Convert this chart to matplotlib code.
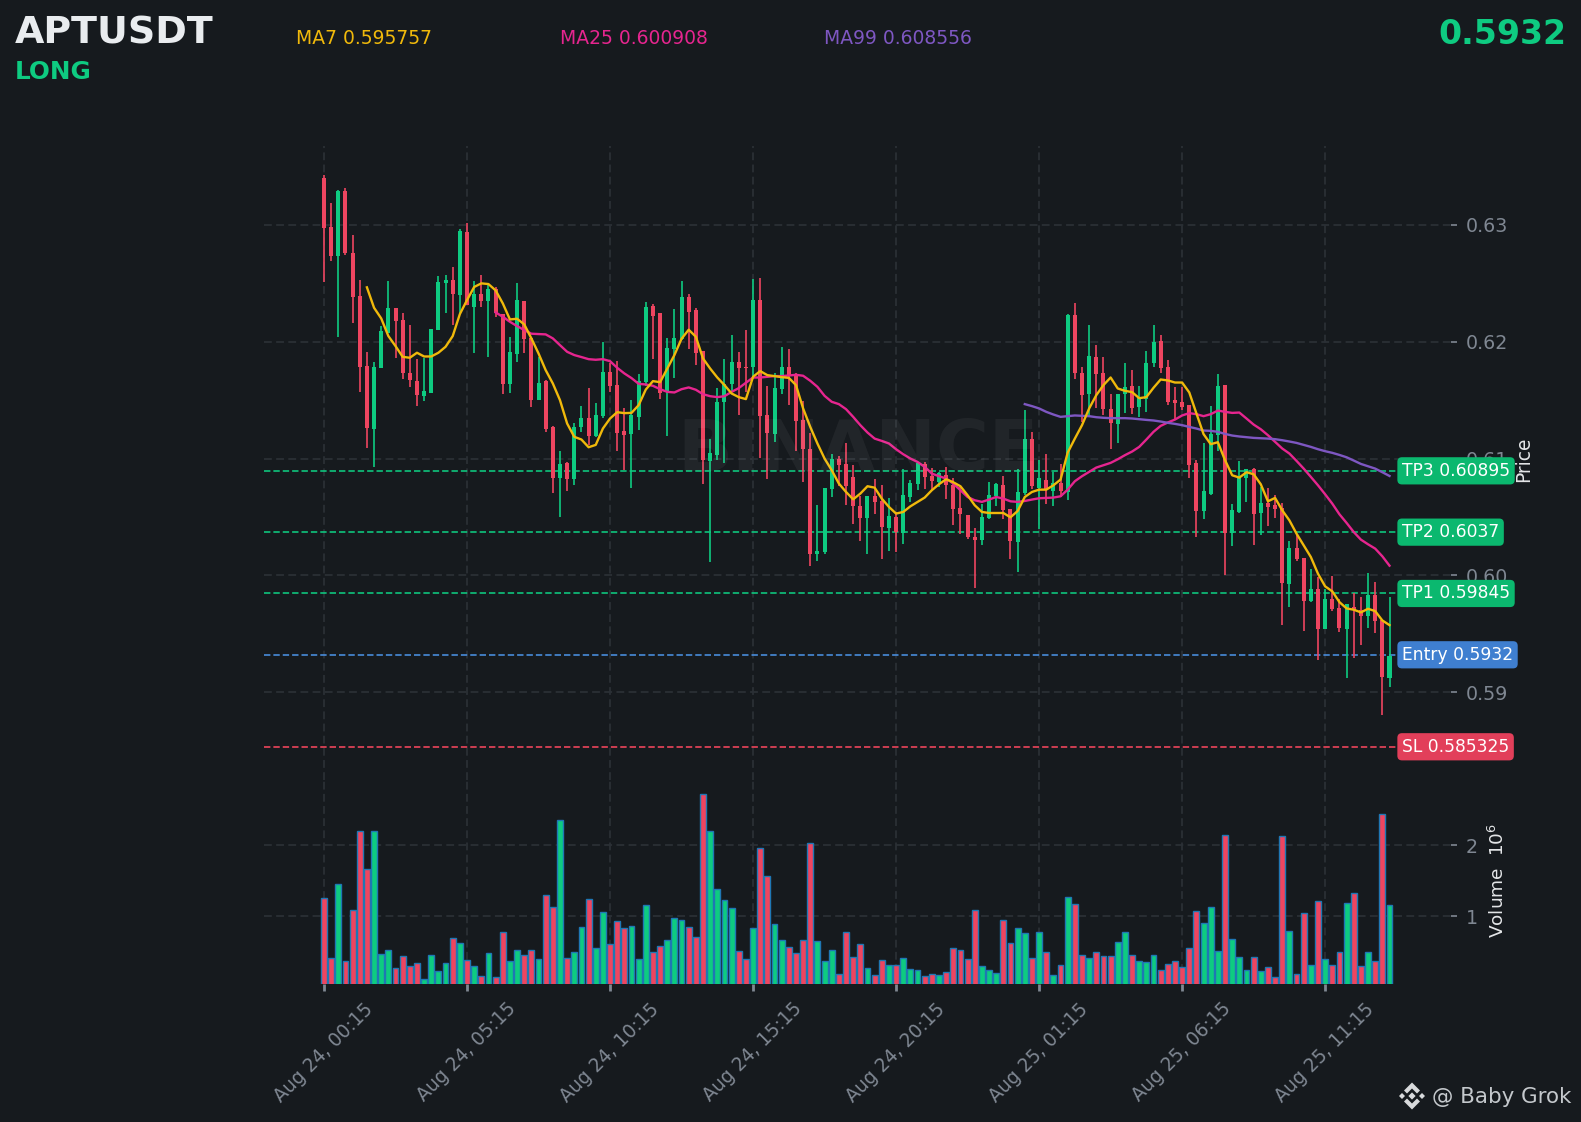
import numpy as np
import matplotlib
matplotlib.use('Agg')
import matplotlib.pyplot as plt
from matplotlib.patches import Polygon

# candles, 15 minute bars
opens = [.63403,.62983,.62737,.63291,.62760,.62391,.61791,.61254,.61777,.62077,
         .62289,.62186,.61731,.61663,.61537,.61563,.62103,.62506,.62529,.62403,
         .62940,.62300,.62409,.62351,.62451,.62237,.61640,.61897,.62349,.62031,
         .61503,.61663,.61269,.60834,.60960,.60826,.61272,.61346,.61192,.61363,
         .61740,.61629,.61234,.61209,.61357,.61654,.62306,.62246,.61580,.61937,
         .62023,.62383,.62271,.61920,.60977,.61029,.61483,.61637,.61826,.61783,
         .61783,.62357,.61371,.61209,.61594,.61783,.61706,.61329,.61080,.60180,
         .60197,.60737,.60994,.60951,.60840,.60591,.60489,.60677,.60634,.60403,
         .60497,.60360,.60669,.60780,.60951,.60849,.60797,.60857,.60771,.60574,
         .60514,.60326,.60300,.60489,.60677,.60771,.60566,.60283,.60703,.61166,
         .60746,.60814,.60720,.60789,.60714,.62229,.61731,.61551,.61869,.61731,
         .61423,.61294,.61551,.61620,.61440,.61509,.61817,.62006,.61783,.61500,
         .61483,.61457,.60960,.60549,.60700,.61200,.61629,.60363,.60540,.60831,
         .60909,.60531,.60617,.60600,.60574,.59923,.60231,.60146,.59777,.59880,
         .59537,.59794,.59717,.59537,.59726,.59700,.59649,.59829,.59614,.59120]
highs = [.63431,.63186,.63300,.63314,.62917,.62526,.61909,.61823,.62134,.62517,
         .62289,.62243,.62140,.61849,.61857,.62109,.62563,.62571,.62637,.62963,
         .63014,.62517,.62571,.62483,.62471,.62237,.62043,.62500,.62349,.62031,
         .61871,.61671,.61277,.61069,.60971,.61306,.61449,.61600,.61477,.62000,
         .61814,.61837,.61429,.61500,.61720,.62337,.62323,.62246,.62029,.62277,
         .62517,.62409,.62286,.61920,.61171,.61600,.61851,.62054,.61914,.62097,
         .62534,.62543,.61620,.61729,.61957,.61934,.61729,.61491,.61223,.60606,
         .60746,.61037,.61020,.61129,.60946,.60677,.60677,.60829,.60771,.60666,
         .60543,.60909,.60814,.60971,.60971,.60920,.60886,.60929,.60837,.60757,
         .60514,.60409,.60614,.60800,.60791,.60851,.60566,.60914,.61420,.61231,
         .60991,.61043,.60886,.60957,.62237,.62329,.61780,.62140,.61969,.61866,
         .61557,.61557,.61820,.61757,.61623,.61917,.62140,.62054,.61843,.61609,
         .61609,.61457,.60986,.61129,.61449,.61720,.61629,.60614,.60980,.60909,
         .60920,.60757,.60751,.60686,.60623,.60294,.60357,.60146,.60057,.59986,
         .59880,.59991,.59800,.59751,.59852,.59811,.60020,.59946,.59614,.59811]
lows = [.62509,.62694,.62043,.62746,.62157,.61571,.61094,.60929,.61777,.62077,
        .61857,.61683,.61614,.61454,.61497,.61563,.62103,.62243,.62140,.62243,
        .62317,.61900,.62300,.61871,.62214,.61549,.61563,.61823,.61906,.61443,
        .61503,.61229,.60709,.60500,.60723,.60777,.61229,.61114,.61186,.61343,
        .61571,.61066,.60900,.60749,.61243,.61620,.61849,.61514,.61194,.61686,
        .62014,.61934,.61800,.60786,.60114,.60991,.60963,.61571,.61371,.61571,
        .61700,.61009,.60829,.61143,.61557,.61457,.61066,.60800,.60080,.60123,
        .60186,.60671,.60763,.60603,.60440,.60294,.60183,.60523,.60140,.60209,
        .60197,.60271,.60626,.60729,.60740,.60729,.60757,.60654,.60431,.60357,
        .60311,.59894,.60260,.60483,.60597,.60483,.60140,.60029,.60686,.60737,
        .60394,.60614,.60597,.60671,.60649,.61683,.61309,.61371,.61437,.61371,
        .61086,.61134,.61391,.61380,.61357,.61400,.61780,.61729,.61457,.61329,
        .61414,.60834,.60329,.60483,.60689,.61066,.60006,.60251,.60534,.60629,
        .60260,.60346,.60420,.60494,.59577,.59729,.60123,.59523,.59771,.59277,
        .59537,.59694,.59514,.59120,.59291,.59406,.59551,.59506,.58806,.59043]
closes = [.62977,.62737,.63291,.62760,.62386,.61786,.61263,.61783,.62091,.62289,
          .62180,.61734,.61674,.61546,.61577,.62109,.62511,.62529,.62411,.62949,
          .62317,.62409,.62349,.62451,.62249,.61640,.61911,.62357,.62023,.61503,
          .61646,.61251,.60834,.60951,.60826,.61269,.61346,.61192,.61371,.61740,
          .61620,.61220,.61200,.61371,.61663,.62297,.62220,.61560,.61946,.62031,
          .62383,.62254,.61903,.60986,.61046,.61483,.61637,.61826,.61774,.61777,
          .62357,.61363,.61217,.61603,.61783,.61711,.61320,.61080,.60180,.60206,
          .60746,.60994,.60943,.60763,.60591,.60489,.60677,.60626,.60411,.60506,
          .60369,.60686,.60789,.60960,.60840,.60806,.60874,.60771,.60566,.60523,
          .60326,.60300,.60497,.60686,.60780,.60557,.60291,.60711,.61166,.60763,
          .60831,.60737,.60789,.60720,.62229,.61734,.61543,.61877,.61723,.61423,
          .61303,.61557,.61611,.61431,.61526,.61817,.61997,.61774,.61483,.61474,
          .61440,.60943,.60549,.60720,.61209,.61620,.60363,.60557,.60840,.60909,
          .60523,.60617,.60583,.60566,.59932,.60231,.60137,.59777,.59880,.59537,
          .59794,.59709,.59546,.59751,.59706,.59649,.59829,.59606,.59129,.59309]
# volume in millions
volumes = [1.263,.418,1.46,.376,1.094,2.202,1.671,2.202,.474,.531,
           .277,.446,.305,.347,.122,.46,.235,.347,.70,.629,
           .39,.305,.164,.488,.15,.784,.376,.531,.46,.531,
           .404,1.305,1.136,2.347,.418,.502,.855,1.249,.559,1.066,
           .615,.939,.84,.869,.404,1.164,.502,.587,.671,.981,
           .953,.855,.714,2.714,2.202,1.39,1.235,1.122,.516,.404,
           .84,1.953,1.559,.897,.671,.573,.488,.671,2.024,.657,
           .376,.531,.193,.784,.432,.615,.277,.178,.39,.319,
           .319,.418,.263,.249,.164,.193,.178,.221,.559,.531,
           .404,1.094,.305,.249,.207,.953,.629,.84,.77,.418,
           .784,.502,.178,.319,1.277,1.178,.46,.418,.502,.446,
           .446,.643,.784,.46,.376,.362,.46,.249,.333,.376,
           .291,.559,1.08,.911,1.136,.516,2.136,.685,.432,.249,
           .432,.235,.291,.15,2.122,.798,.193,1.052,.319,1.221,
           .404,.319,.502,1.193,1.333,.305,.502,.376,2.432,1.164]

ma7 = [.62466,.62291,.62200,.62049,.61963,.61871,.61863,.61906,.61874,.61874,
       .61906,.61957,.62049,.62237,.62357,.62469,.62500,.62494,.62440,.62329,
       .62191,.62197,.62149,.62029,.61900,.61757,
       .61643,.61500,.61300,.61186,.61163,.61097,.61117,.61257,.61343,.61397,
       .61389,.61391,.61457,.61591,.61663,.61654,.61769,.61886,.62026,.62103,
       .62043,.61857,.61771,.61694,.61629,.61557,.61526,.61509,.61700,.61749,
       .61714,.61706,.61697,.61691,.61629,.61429,.61271,.61129,.61000,
       .60900,.60786,.60714,.60651,.60700,.60763,.60751,.60657,.60586,.60529,
       .60543,.60591,.60629,.60666,.60729,.60780,.60823,.60797,.60763,.60686,
       .60600,.60543,.60534,.60534,.60534,.60497,.60551,.60671,.60714,.60734,
       .60734,.60771,.60820,
       .61051,.61171,.61286,.61429,.61543,.61629,.61694,.61600,.61580,.61569,
       .61517,.61526,.61606,.61677,.61669,.61651,.61651,.61566,.61386,.61209,
       .61123,.61140,.60986,.60857,.60837,.60883,.60866,.60780,.60634,.60663,
       .60557,.60471,.60357,.60257,.60157,.60014,.59906,.59863,.59771,.59717,
       .59706,.59683,.59714,.59694,.59614,.59574]
ma25 = [.62251,.62214,.62171,.62134,.62100,.62069,.62066,.62063,.62029,.61971,
        .61914,.61886,.61869,.61851,.61846,.61851,.61834,.61777,.61729,.61689,
        .61640,.61634,.61623,.61594,.61571,.61566,.61594,.61609,.61589,.61551,
        .61534,.61526,.61534,.61571,.61603,.61649,.61694,.61694,.61700,.61706,
        .61706,.61711,.61717,.61709,.61666,.61614,
        .61537,.61486,.61466,.61423,.61357,.61286,.61223,.61171,.61151,.61129,
        .61080,.61037,.61000,.60971,.60929,.60871,.60849,.60829,.60786,.60729,
        .60671,.60643,.60629,.60649,.60671,.60657,.60634,.60629,.60637,.60649,
        .60660,.60663,.60666,.60677,
        .60734,.60806,.60849,.60886,.60923,.60943,.60963,.60994,.61029,.61060,
        .61100,.61163,.61229,.61280,.61309,.61334,.61369,.61389,.61380,.61363,
        .61380,.61411,.61400,.61391,.61394,.61343,.61291,.61251,.61200,.61143,
        .61086,.61043,.60980,.60914,.60843,.60771,.60694,.60614,.60523,.60449,
        .60371,.60306,.60266,.60229,.60163,.60083]
ma99 = [.61466,.61449,.61429,.61400,.61377,.61357,.61363,.61369,.61366,.61363,
        .61354,.61349,.61346,.61346,.61346,.61343,.61337,.61331,.61326,.61317,
        .61306,.61297,.61286,.61271,.61257,.61240,.61237,.61229,.61211,.61197,
        .61189,.61183,.61177,.61174,.61171,.61166,.61157,.61146,.61134,.61117,
        .61100,.61080,.61063,.61049,.61031,.61011,.60983,.60954,.60934,.60914,
        .60883,.60851]

tick_pos = [0, 20, 40, 60, 80, 100, 120, 140]
tick_labels = ['Aug 24, 00:15', 'Aug 24, 05:15', 'Aug 24, 10:15', 'Aug 24, 15:15',
               'Aug 24, 20:15', 'Aug 25, 01:15', 'Aug 25, 06:15', 'Aug 25, 11:15']
price_ticks = [0.59, 0.60, 0.61, 0.62, 0.63]
vol_ticks = [1, 2]

level_names = ['TP3 0.60895', 'TP2 0.6037', 'TP1 0.59845', 'Entry 0.5932', 'SL 0.585325']
level_values = [0.60895, 0.6037, 0.59845, 0.5932, 0.585325]
level_colors = ['#0ecb81', '#0ecb81', '#0ecb81', '#4a90e2', '#f6465d']
badge_colors = ['#0bb86f', '#0bb86f', '#0bb86f', '#3f7fd0', '#e23f5a']

BG = '#161a1e'
GREEN = '#0ecb81'
RED = '#ee4560'
GRID = '#2b3036'
TICK = '#7f8792'
W, H = 1581, 1122

plt.rcParams['font.family'] = 'DejaVu Sans'
fig = plt.figure(figsize=(W / 100, H / 100), dpi=100, facecolor=BG)


def px_axes(left, top, right, bottom):
    return fig.add_axes([left / W, 1 - bottom / H, (right - left) / W, (bottom - top) / H])


ax = px_axes(264, 146, 1451, 780)
vax = px_axes(264, 780, 1451, 984)

x = np.arange(len(opens))
o = np.array(opens)
c = np.array(closes)
colors = [GREEN if c[i] >= o[i] else RED for i in x]

for a in (ax, vax):
    a.set_facecolor('none')
    a.set_xlim(-8.39, 157.6)
    for s in a.spines.values():
        s.set_visible(False)
    a.grid(True, color=GRID, linestyle=(0, (4.5, 2.5)), linewidth=1.25, zorder=0)
    a.set_axisbelow(True)
    a.yaxis.tick_right()
    a.set_xticks(tick_pos)

# price panel
ax.set_ylim(0.58248, 0.63676)
ax.set_yticks(price_ticks)
ax.set_yticklabels(['%.2f' % t for t in price_ticks])
ax.tick_params(axis='x', length=0, labelbottom=False)
ax.tick_params(axis='y', length=4.5, width=1.2, color=TICK, labelcolor=TICK, labelsize=13.7, pad=6)
ax.vlines(x, lows, highs, colors=colors, linewidth=1.2, zorder=3)
ax.bar(x, np.abs(c - o), bottom=np.minimum(o, c), width=0.56, color=colors, linewidth=0, zorder=3.1)

ax.plot(x[-len(ma25):], ma25, color='#e6258f', linewidth=1.7, zorder=4)
ax.plot(x[-len(ma99):], ma99, color='#7e57c2', linewidth=1.7, zorder=4)
ax.plot(x[-len(ma7):], ma7, color='#f0b90b', linewidth=1.7, zorder=4.1)

for name, val, col, bcol in zip(level_names, level_values, level_colors, badge_colors):
    ax.axhline(val, color=col, linestyle=(0, (3.4, 1.6)), linewidth=1.35, alpha=0.85, zorder=2.8)
    ax.text(0.9587, val, name, transform=ax.get_yaxis_transform(), color='white', fontsize=12.3,
            va='center', ha='left', zorder=6, clip_on=False,
            bbox=dict(boxstyle='round,pad=0.27', fc=bcol, ec='none'))

fig.text(1524 / W, 1 - 459 / H, 'Price', color='#e4e6e8', fontsize=13.4, rotation=90, ha='center', va='center')
fig.text(858 / W, 1 - 452 / H, 'BINANCE', color='white', alpha=0.05, fontsize=52, fontweight='bold',
         ha='center', va='center', zorder=0)

# volume panel
vax.set_ylim(0.048, 2.915)
vax.set_yticks(vol_ticks)
vax.set_yticklabels(['1', '2'])
vax.bar(x, volumes, width=0.82, color=colors, edgecolor='#1f77b4', linewidth=1, zorder=3)
vax.tick_params(axis='y', length=4.5, width=1.2, color=TICK, labelcolor=TICK, labelsize=13.7, pad=6)
vax.tick_params(axis='x', length=5, width=2, color=TICK, labelcolor=TICK, labelsize=13.4, pad=6)
vax.set_xticklabels(tick_labels, rotation=45, ha='center')
fig.text(1498 / W, 1 - 880 / H, 'Volume  $10^6$', color='#e4e6e8', fontsize=13.3, rotation=90, ha='center', va='center')

# header
fig.text(15 / W, 1 - 33 / H, 'APTUSDT', color='#e9ecef', fontsize=27.4, fontweight='bold', va='center')
fig.text(15 / W, 1 - 72 / H, 'LONG', color=GREEN, fontsize=17.8, fontweight='bold', va='center')
fig.text(1566 / W, 1 - 34 / H, '0.5932', color=GREEN, fontsize=23.9, fontweight='bold', va='center', ha='right')
fig.text(296 / W, 1 - 38 / H, 'MA7 0.595757', color='#f0b90b', fontsize=13.5, va='center')
fig.text(560 / W, 1 - 38 / H, 'MA25 0.600908', color='#e6258f', fontsize=13.5, va='center')
fig.text(824 / W, 1 - 38 / H, 'MA99 0.608556', color='#7e57c2', fontsize=13.5, va='center')

# credit with the small logo
fig.text(1432 / W, 1 - 1097 / H, '@ Baby Grok', color='#c4c8cc', fontsize=15.4, va='center')
logo = fig.add_axes([1397 / W, 1 - 1111 / H, 30 / W, 30 / H])
logo.set_xlim(-15, 15)
logo.set_ylim(-15, 15)
logo.axis('off')
shapes = [[(0, 3.6), (3.6, 0), (0, -3.6), (-3.6, 0)],
          [(-10, 3), (-7, 0), (-10, -3), (-13, 0)],
          [(10, 3), (13, 0), (10, -3), (7, 0)],
          [(0, 13.5), (8, 5.5), (5, 2.5), (0, 7.5), (-5, 2.5), (-8, 5.5)],
          [(0, -13.5), (8, -5.5), (5, -2.5), (0, -7.5), (-5, -2.5), (-8, -5.5)]]
for s in shapes:
    logo.add_patch(Polygon(s, closed=True, fc='#d8dadc', ec='none'))

fig.savefig('out.png', dpi=100, facecolor=BG)
